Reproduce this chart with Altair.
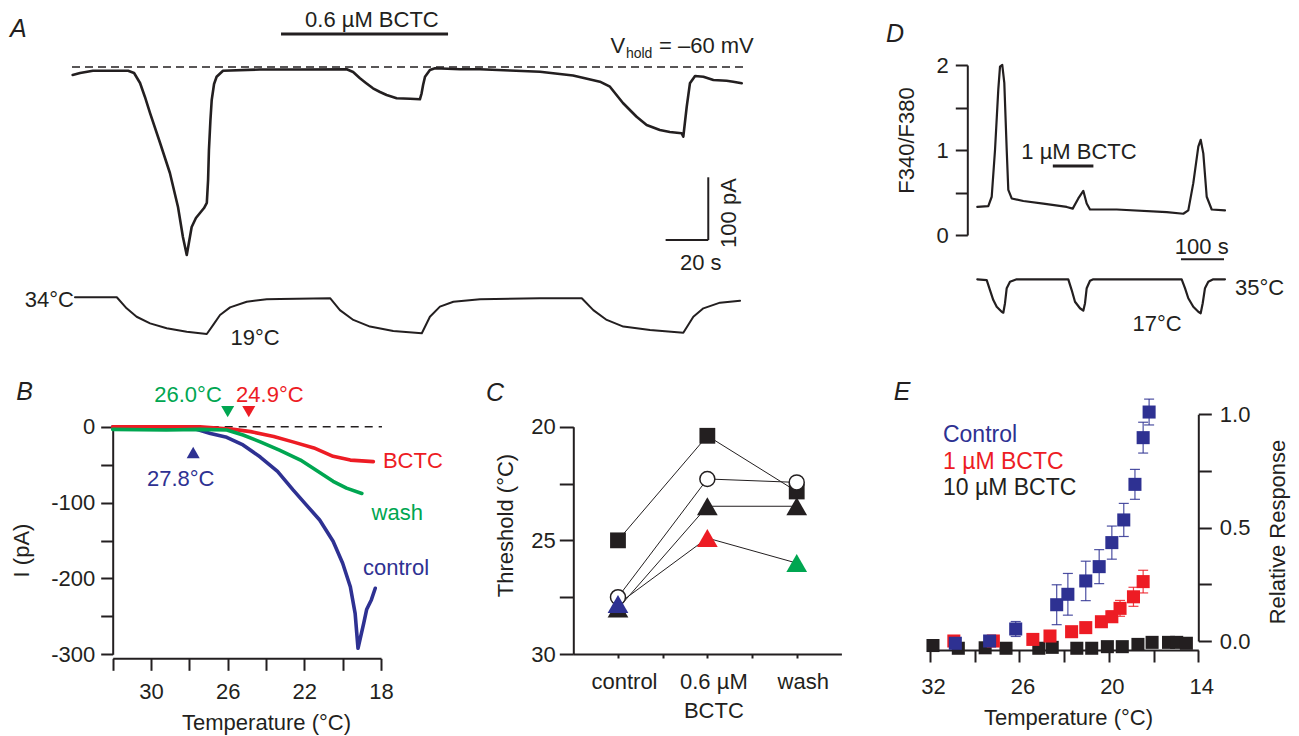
import altair as alt
import pandas as pd

# ======================= DATA =======================
# Panel A: whole-cell current (pA) vs time (s)
A_TIME = [0.3, 3.8, 9.8, 26.3, 29.1, 31.9, 34.2, 36.6, 41.3, 45.9, 49.7, 52.0, 53.8, 56.1, 58.1, 60.0,
          61.9, 63.2, 63.8, 64.2, 64.9, 65.5, 66.6, 67.8, 70.8, 88.1, 106.9, 128.8, 131.8, 135.0, 137.8,
          141.1, 144.4, 147.5, 152.2, 158.5, 163.1, 163.9, 164.6, 165.5, 167.8, 170.2, 181.9, 191.3, 205.3,
          219.4, 234.9, 247.5, 252.2, 258.3, 264.7, 269.4, 275.6, 280.3, 285.8, 286.6, 288.2, 289.7, 292.1,
          296.0, 300.7, 306.9, 310.0, 314.0]
A_CURRENT = [-12.8, -9.6, -5.9, -5.9, -9.6, -25.5, -47.8, -73.4, -121.2, -169.1, -223.3, -271.1, -299.8,
             -255.2, -240.8, -232.9, -224.9, -216.9, -180.2, -132.4, -84.5, -52.6, -27.1, -15.5, -5.9, -4.0,
             -4.0, -3.7, -8.0, -18.0, -25.5, -34.0, -39.9, -44.7, -49.9, -50.7, -51.5, -41.9, -28.7, -15.5,
             -4.8, -2.1, -3.7, -3.7, -5.6, -7.5, -13.6, -23.4, -31.4, -57.4, -79.3, -92.5, -100.5, -103.7,
             -105.7, -111.2, -63.3, -26.0, -14.4, -15.5, -20.7, -21.9, -23.4, -26.0]
# Panel A: bath temperature (°C) vs time (s)
A_TEMP_TIME = [1.4, 21.0, 25.6, 30.3, 36.6, 44.4, 53.8, 63.2, 66.2, 69.4, 74.1, 81.9, 91.3, 97.5, 121.0,
               125.6, 131.9, 139.7, 150.6, 164.0, 167.8, 172.5, 178.8, 191.3, 219.4, 239.0, 244.4, 250.7,
               258.5, 271.0, 286.6, 291.3, 296.0, 303.8, 313.2]
A_TEMP = [33.9, 33.9, 29.4, 26.0, 23.3, 21.3, 19.9, 19.0, 22.7, 26.7, 29.8, 32.1, 33.1, 33.2, 33.5, 28.7,
          24.7, 22.0, 20.2, 19.3, 26.0, 30.1, 32.1, 33.1, 33.5, 33.5, 28.7, 24.7, 22.0, 20.6, 19.5, 26.0,
          29.4, 31.7, 32.5]
A_BCTC_ON = [98.0, 176.3]          # s, application of 0.6 µM BCTC

# Panel D: Fura-2 ratio vs time (s)
D_TIME = [0.7, 26.3, 34.2, 41.9, 49.5, 53.5, 58.8, 63.5, 69.1, 72.8, 80.7, 107.7, 154.2, 208.6, 222.6,
          235.6, 247.2, 255.1, 262.8, 324.9, 441.2, 479.8, 491.4, 503.0, 514.7, 520.2, 526.3, 534.2,
          545.8, 576.7]
D_RATIO = [0.33, 0.34, 0.45, 1.0, 1.71, 1.98, 2.0, 1.79, 1.0, 0.53, 0.43, 0.40, 0.37, 0.33, 0.31, 0.43,
           0.52, 0.37, 0.30, 0.30, 0.27, 0.25, 0.29, 0.61, 1.04, 1.12, 0.96, 0.45, 0.30, 0.29]
D_TEMP_TIME = [0.7, 22.6, 30.2, 37.9, 45.8, 57.4, 61.2, 65.1, 69.1, 76.7, 92.3, 212.3, 220.2, 227.9,
               239.5, 247.2, 251.2, 255.1, 262.8, 270.5, 476.0, 483.7, 491.4, 503.0, 514.7, 520.2, 524.9,
               530.2, 537.9, 549.5, 576.7]
D_TEMP = [35.0, 34.6, 29.2, 23.8, 20.2, 17.5, 17.0, 22.1, 30.2, 33.7, 35.0, 35.0, 29.2, 22.9, 19.4, 18.1,
          22.1, 30.2, 34.2, 35.0, 35.0, 30.2, 24.8, 20.2, 17.5, 16.7, 22.1, 30.2, 33.7, 35.0, 35.0]
D_BCTC_ON = [176.3, 270.7]

# Panel B: current (pA) vs temperature (°C)
B_CTRL_T = [32.0, 29.5, 27.8, 26.9, 26.05, 25.2, 24.3, 23.4, 22.6, 21.9, 21.2, 20.5, 20.0, 19.6, 19.35,
            19.2, 18.9, 18.75, 18.5, 18.3]
B_CTRL_I = [0, -1, -2, -9, -14, -24, -40, -59, -83, -103, -123, -151, -180, -211, -246, -292, -259, -241,
            -228, -213]
B_BCTC_T = [32.0, 27.45, 25.7, 24.8, 23.6, 22.6, 21.5, 20.5, 19.6, 18.4]
B_BCTC_I = [0, 0, -3.5, -6.5, -13, -20, -28, -39, -44, -46]
B_WASH_T = [32.0, 29.2, 27.45, 26.05, 25.2, 24.3, 23.3, 22.2, 21.4, 20.5, 19.8, 19.0]
B_WASH_I = [-3.5, -4.4, -3.5, -4.4, -11, -20, -31, -44, -57, -72, -81, -88]
B_THRESH = {"control": 27.8, "wash": 26.0, "BCTC": 24.9}

# Panel C: thresholds (°C) per condition
C_CONDITIONS = ["control", "0.6 µM BCTC", "wash"]
C_SQUARE = [25.0, 20.4, 22.85]
C_CIRCLE = [27.5, 22.3, 22.45]
C_TRIANGLE = [28.0, 23.5, 23.5]
C_COLORED = [27.8, 24.9, 26.0]

# Panel E: relative response vs temperature
E_CTRL_T = [30.3, 28.0, 26.25, 23.5, 22.75, 21.55, 20.65, 19.8, 19.0, 18.25, 17.7, 17.3]
E_CTRL_R = [-0.01, 0.0, 0.053, 0.16, 0.206, 0.265, 0.328, 0.434, 0.534, 0.691, 0.897, 1.01]
E_CTRL_E = [0, 0, 0.033, 0.088, 0.092, 0.087, 0.075, 0.073, 0.073, 0.066, 0.068, 0.057]
E_B1_T = [30.4, 27.75, 25.1, 23.95, 22.5, 21.55, 20.5, 19.8, 19.25, 18.35, 17.7]
E_B1_R = [0.0, 0.0, 0.007, 0.022, 0.041, 0.059, 0.085, 0.107, 0.144, 0.195, 0.262]
E_B1_E = [0, 0, 0, 0, 0.01, 0.015, 0.02, 0.025, 0.035, 0.042, 0.05]
E_B10_T = [31.8, 30.1, 28.3, 26.9, 24.7, 23.8, 22.15, 21.15, 20.1, 19.1, 18.05, 17.1, 16.0, 15.45, 14.8]
E_B10_R = [-0.02, -0.032, -0.03, -0.032, -0.032, -0.028, -0.032, -0.032, -0.025, -0.025, -0.015, -0.006,
           -0.006, -0.006, -0.01]

# ======================= STYLE / LAYOUT =======================
FONT = "Liberation Sans"
INK = "#231f20"
BLUE = "#2e3192"
RED = "#ed1c24"
GREEN = "#00a651"
W, H = 1283, 728


def rng(p0, p1):
    return [p0 - 8, p1 - 8]


def scale(dom, r):
    return alt.Scale(domain=dom, range=r, nice=False, zero=False)


S = {
    "Ax": scale([0, 300], rng(72, 72 + 2.133 * 300)),
    "Ay": scale([-100, 0], rng(67 + 62.7, 67)),
    "ATy": scale([19, 34], rng(334, 297)),
    "Dx": scale([0, 600], rng(977, 1235)),
    "Dy": scale([0, 2], rng(235, 65)),
    "DTy": scale([17, 35], rng(312.7, 279.3)),
    "Bx": scale([32, 18], rng(112.7, 381)),
    "By": scale([-300, 0], rng(654.3, 426.7)),
    "Cx": scale([0.5, 3.5], rng(573.3, 841.4)),
    "Cy": scale([20, 30], rng(426.7, 654)),
    "Ex": scale([32, 14], rng(930, 1198.3)),
    "Ey": scale([0, 1], rng(641, 414.3)),
}

AX = dict(domainColor=INK, tickColor=INK, labelColor=INK, titleColor=INK, domainWidth=2, tickWidth=2,
          labelFont=FONT, titleFont=FONT, labelFontSize=22, titleFontSize=22, titleFontWeight="normal",
          grid=False, labelFlush=False, labelOverlap=False, titleAlign="center",
          titleBaseline="alphabetic")


def enc(xf, yf, sx, sy, xaxis=None, yaxis=None):
    return dict(x=alt.X(xf, type="quantitative", scale=S[sx], axis=xaxis),
                y=alt.Y(yf, type="quantitative", scale=S[sy], axis=yaxis))


def line(xs, ys, sx, sy, color=INK, width=2.0, dash=None, xaxis=None, yaxis=None):
    df = pd.DataFrame({"x": xs, "y": ys, "o": list(range(len(xs)))})
    m = dict(color=color, strokeWidth=width, strokeJoin="round")
    if dash:
        m["strokeDash"] = dash
    else:
        m["strokeCap"] = "round"
    return alt.Chart(df).mark_line(**m).encode(order="o:Q", **enc("x", "y", sx, sy, xaxis, yaxis))


def text(s, x, y, sx, sy, size=22, color=INK, align="center", baseline="alphabetic", angle=0,
         italic=False):
    df = pd.DataFrame({"x": [x], "y": [y], "s": [s]})
    kw = dict(font=FONT, fontSize=size, color=color, align=align, baseline=baseline)
    if angle:
        kw["angle"] = angle
    if italic:
        kw["fontStyle"] = "italic"
    return alt.Chart(df).mark_text(**kw).encode(text="s:N", **enc("x", "y", sx, sy))


def hrule(x0, x1, y, sx, sy, width=2.0):
    df = pd.DataFrame({"x": [x0], "x2": [x1], "y": [y]})
    return alt.Chart(df).mark_rule(color=INK, strokeWidth=width).encode(
        x2=alt.X2(field="x2"), **enc("x", "y", sx, sy))


def vrule(x, y0, y1, sx, sy, width=2.0):
    df = pd.DataFrame({"x": [x], "y": [y0], "y2": [y1]})
    return alt.Chart(df).mark_rule(color=INK, strokeWidth=width).encode(
        y2=alt.Y2(field="y2"), **enc("x", "y", sx, sy))


def points(xs, ys, sx, sy, shape, size, color, xaxis=None, yaxis=None, **extra):
    df = pd.DataFrame({"x": xs, "y": ys})
    return alt.Chart(df).mark_point(shape=shape, size=size, filled=True, color=color, opacity=1,
                                    **extra).encode(**enc("x", "y", sx, sy, xaxis, yaxis))


layers = []

# ----------------------------- Panel A -----------------------------
layers.append(line([0, 315.5], [0, 0], "Ax", "Ay", width=1.5, dash=[8, 5]))
layers.append(line(A_TIME, A_CURRENT, "Ax", "Ay", width=2.6))
layers.append(line(A_TEMP_TIME, A_TEMP, "Ax", "ATy", width=2.0))
layers.append(hrule(A_BCTC_ON[0], A_BCTC_ON[1], 52.6, "Ax", "Ay", width=3))
layers.append(vrule(298.3, -175.9, -275.9, "Ax", "Ay"))
layers.append(hrule(278.3, 298.3, -275.9, "Ax", "Ay"))
layers.append(text("A", -25.1, 60.6, "Ax", "Ay", size=25, baseline="middle", italic=True))
layers.append(text("0.6 µM BCTC", 140.6, 64.5, "Ax", "Ay", size=22))
layers.append(text("V", 259.3, 22.3, "Ax", "Ay", align="right"))
layers.append(text("hold", 259.7, 14.4, "Ax", "Ay", size=14, align="left"))
layers.append(text("= \u201360 mV", 275.2, 22.3, "Ax", "Ay", align="left"))
layers.append(text("100 pA", 311.3, -232.9, "Ax", "Ay", angle=270))
layers.append(text("20 s", 294.8, -323.8, "Ax", "Ay"))
layers.append(text("34°C", 0.9, 29.9, "Ax", "ATy", align="right"))
layers.append(text("19°C", 85.8, 14.5, "Ax", "ATy"))

# ----------------------------- Panel D -----------------------------
d_axis = alt.Axis(orient="left", offset=-959.3, values=[0, 0.5, 1, 1.5, 2], tickSize=12, labelPadding=7,
                  labelExpr="datum.value % 1 == 0 ? format(datum.value, 'd') : ''", title="F340/F380",
                  titleAngle=270, titleX=-54.3, titleY=132, **AX)
layers.append(line(D_TIME, D_RATIO, "Dx", "Dy", width=2.2, yaxis=d_axis))
layers.append(line(D_TEMP_TIME, D_TEMP, "Dx", "DTy", width=2.2))
layers.append(hrule(D_BCTC_ON[0], D_BCTC_ON[1], 0.812, "Dx", "Dy", width=3))
layers.append(hrule(474.4, 574.4, -0.286, "Dx", "Dy", width=2))
layers.append(text("D", -190.7, 2.365, "Dx", "Dy", size=25, baseline="middle", italic=True))
layers.append(text("1 µM BCTC", 237.2, 0.894, "Dx", "Dy"))
layers.append(text("100 s", 522.6, -0.224, "Dx", "Dy"))
layers.append(text("35°C", 600, 26.5, "Dx", "DTy", align="left"))
layers.append(text("17°C", 418.6, 7.1, "Dx", "DTy"))

# ----------------------------- Panel B -----------------------------
bx_axis = alt.Axis(orient="bottom", offset=-77.7, values=[32, 30, 28, 26, 24, 22, 20, 18], tickSize=12,
                   labelPadding=11, labelExpr="datum.value % 4 == 2 ? datum.label : ''",
                   title="Temperature (°C)", titleX=258, titleY=70.7, titleAngle=0, **AX)
by_axis = alt.Axis(orient="left", offset=-104.7, values=[0, -50, -100, -150, -200, -250, -300],
                   tickSize=12, labelPadding=6,
                   labelExpr="datum.value % 100 == 0 ? (datum.value < 0 ? '-' + format(-datum.value, 'd') : '0') : ''",
                   title="I (pA)", titleAngle=270, titleX=-84.3, titleY=542, **AX)
layers.append(line([32, 17.95], [0, 0], "Bx", "By", width=1.5, dash=[8, 6]))
layers.append(line(B_CTRL_T, B_CTRL_I, "Bx", "By", color=BLUE, width=3.6, xaxis=bx_axis, yaxis=by_axis))
layers.append(line(B_BCTC_T, B_BCTC_I, "Bx", "By", color=RED, width=3.6))
layers.append(line(B_WASH_T, B_WASH_I, "Bx", "By", color=GREEN, width=3.6))
layers.append(points([B_THRESH["control"]], [-34], "Bx", "By", "triangle-up", 170, BLUE))
layers.append(points([B_THRESH["wash"]], [19.8], "Bx", "By", "triangle-down", 170, GREEN))
layers.append(points([B_THRESH["BCTC"]], [19.8], "Bx", "By", "triangle-down", 170, RED))
layers.append(text("B", 36.6, 45.7, "Bx", "By", size=25, baseline="middle", italic=True))
layers.append(text(f"{B_THRESH['control']:.1f}°C", 28.45, -78.1, "Bx", "By", color=BLUE))
layers.append(text(f"{B_THRESH['wash']:.1f}°C", 28.07, 32.5, "Bx", "By", color=GREEN))
layers.append(text(f"{B_THRESH['BCTC']:.1f}°C", 23.8, 32.5, "Bx", "By", color=RED))
layers.append(text("BCTC", 17.9, -54.4, "Bx", "By", color=RED, align="left"))
layers.append(text("wash", 18.49, -122.9, "Bx", "By", color=GREEN, align="left"))
layers.append(text("control", 18.94, -195.4, "Bx", "By", color=BLUE, align="left"))

# ----------------------------- Panel C -----------------------------
c_lab = []
for i, c in enumerate(C_CONDITIONS, start=1):
    parts = c.split(" ")
    if len(parts) > 2:
        lab = "['" + " ".join(parts[:2]) + "','" + " ".join(parts[2:]) + "']"
    else:
        lab = "'" + c + "'"
    c_lab.append(f"datum.value == {i} ? {lab} : ")
c_label_expr = "".join(c_lab) + "''"
cx_axis = alt.Axis(orient="bottom", offset=-82, values=[1, 1.5, 2, 2.5, 3], tickSize=4, labelPadding=13,
                   labelOffset=6, labelLineHeight=29, labelExpr=c_label_expr, title=None, **AX)
cy_axis = alt.Axis(orient="left", offset=-565.3, values=[20, 22.5, 25, 27.5, 30], tickSize=14,
                   labelPadding=4, labelExpr="datum.value % 5 == 0 ? datum.label : ''",
                   title="Threshold (°C)", titleAngle=270, titleX=-61.3, titleY=517, **AX)
pos = [1, 2, 3]
c_lines = pd.DataFrame({
    "x": pos * 4,
    "y": C_SQUARE + C_CIRCLE + C_TRIANGLE + C_COLORED,
    "s": ["sq"] * 3 + ["ci"] * 3 + ["tr"] * 3 + ["co"] * 3,
})
layers.append(alt.Chart(c_lines).mark_line(color=INK, strokeWidth=1).encode(
    detail="s:N", **enc("x", "y", "Cx", "Cy", cx_axis, cy_axis)))
layers.append(points(pos, C_SQUARE, "Cx", "Cy", "square", 250, INK))
layers.append(points(pos, C_TRIANGLE, "Cx", "Cy", "triangle-up", 430, INK))
layers.append(alt.Chart(pd.DataFrame({"x": pos, "y": C_CIRCLE})).mark_point(
    shape="circle", size=225, filled=True, fill="white", stroke=INK, strokeWidth=1.5, opacity=1
).encode(**enc("x", "y", "Cx", "Cy")))
layers.append(alt.Chart(pd.DataFrame({"x": pos, "y": C_COLORED, "c": [BLUE, RED, GREEN]})).mark_point(
    shape="triangle-up", size=430, filled=True, opacity=1
).encode(color=alt.Color("c:N", scale=None), **enc("x", "y", "Cx", "Cy")))
layers.append(text("C", -0.376, 18.52, "Cx", "Cy", size=25, baseline="middle", italic=True))

# ----------------------------- Panel E -----------------------------
ex_axis = alt.Axis(orient="bottom", offset=-86, values=[32, 29, 26, 23, 20, 17, 14], tickSize=12,
                   labelPadding=14, labelOffset=3, labelExpr="datum.value % 6 == 2 ? datum.label : ''",
                   title="Temperature (°C)", titleX=1060, titleY=74, titleAngle=0, **AX)
ey_axis = alt.Axis(orient="right", offset=-92.7, values=[0, 0.25, 0.5, 0.75, 1], tickSize=13,
                   labelPadding=8, format=".1f",
                   labelExpr="(datum.value * 2) % 1 == 0 ? datum.label : ''",
                   title="Relative Response", titleAngle=270, titleX=85.7, titleY=523.5, **AX)


def errbars(T, R, E, color):
    lo = [r - e for r, e in zip(R, E)]
    hi = [r + e for r, e in zip(R, E)]
    df = pd.DataFrame({"x": T, "y": lo, "y2": hi})
    rule = alt.Chart(df).mark_rule(color=color, strokeWidth=1.2, opacity=0.85).encode(
        y2=alt.Y2(field="y2"), **enc("x", "y", "Ex", "Ey"))
    caps = alt.Chart(pd.DataFrame({"x": T + T, "y": lo + hi})).mark_tick(
        orient="horizontal", color=color, size=10, thickness=1.2, opacity=0.85
    ).encode(**enc("x", "y", "Ex", "Ey"))
    return [rule, caps]


layers.append(points(E_B10_T, E_B10_R, "Ex", "Ey", "square", 170, INK, xaxis=ex_axis, yaxis=ey_axis))
layers += errbars(E_B1_T, E_B1_R, E_B1_E, RED)
layers.append(points(E_B1_T, E_B1_R, "Ex", "Ey", "square", 170, RED))
layers += errbars(E_CTRL_T, E_CTRL_R, E_CTRL_E, BLUE)
layers.append(points(E_CTRL_T, E_CTRL_R, "Ex", "Ey", "square", 170, BLUE))
layers.append(text("E", 33.88, 1.098, "Ex", "Ey", size=25, baseline="middle", italic=True))
layers.append(text("Control", 31.13, 0.878, "Ex", "Ey", size=23, color=BLUE, align="left"))
layers.append(text("1 µM BCTC", 31.13, 0.759, "Ex", "Ey", size=23, color=RED, align="left"))
layers.append(text("10 µM BCTC", 31.13, 0.646, "Ex", "Ey", size=23, color=INK, align="left"))

chart = alt.layer(*layers).resolve_scale(x="independent", y="independent").properties(
    width=W, height=H, padding=0, autosize=alt.AutoSizeParams(type="none")
).configure_view(stroke=None)

chart.save("out.html", embed_options={"renderer": "svg", "actions": False})
